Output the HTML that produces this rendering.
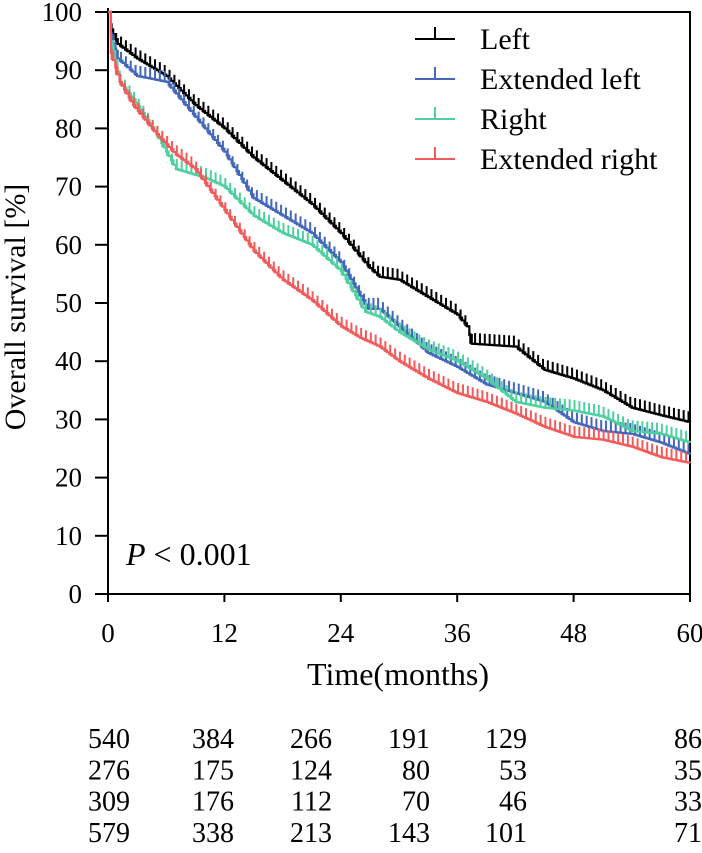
<!DOCTYPE html>
<html><head><meta charset="utf-8"><style>
body{margin:0;background:#fff}
svg text{font-family:"Liberation Serif",serif;fill:#000}
</style></head><body>
<svg id="chart" width="702" height="848" xmlns="http://www.w3.org/2000/svg">
<g id="plot"></g>
</svg>
<script>
const seriesNames=["Left","Extended left","Right","Extended right"];
const seriesColors=["#000000","#4466bb","#4ecf9f","#f25b5b"];
const leftT=[0,0.3,1,3,6,9,12,15,18,21,24,27,28,30,33,36,37,37.5,42,45,48,51,54,57,60];
const leftV=[100,97,94.5,92,89,84,80,75,71,67,62,56,54.5,54,51,48,46,43,42.5,38.5,37,35,32,30.7,29.5];
const extLeftT=[0,0.3,1,3,6,8,12,15,18,21,24,26.8,28,30,33,36,39,42,45,48,51,54,57,60];
const extLeftV=[100,96,92,89,88,84,76,68,65,62,57,49,49,46,41.4,39,36,34.5,33,29.5,28,27.5,26,24];
const rightT=[0,0.3,1.2,2.6,5,7,10,12,15,18,21,24,26.5,28,30,33,36,39,42,45,48,51,54,57,60];
const rightV=[100,95,88,85,79,73,71.5,70,65,62,60,55.5,48.5,47.6,45,42,40,37,33,32,31.5,30.5,28,27.5,26];
const extRightT=[0,0.3,1.2,2.6,5,7,9,12,15,18,21,24,26,28,30,33,36,39,42,45,48,51,54,57,60];
const extRightV=[100,93,88,84,79,75.5,73,66,59,54,50.5,46,44,42.5,40,37,34.5,33,31,28.7,27,26.5,25.3,23.5,22.5];
const xTicks=[0,12,24,36,48,60];
const yTicks=[0,10,20,30,40,50,60,70,80,90,100];
const riskRows=[[540,384,266,191,129,86],[276,175,124,80,53,35],[309,176,112,70,46,33],[579,338,213,143,101,71]];

const X0=108,X1=690,Y0=594,Y1=12;
const xs=t=>X0+(t/60)*(X1-X0);
const ys=v=>Y0-(v/100)*(Y0-Y1);
const NS="http://www.w3.org/2000/svg";
const g=document.getElementById('plot');
function mk(tag,attrs,parent){const e=document.createElementNS(NS,tag);for(const k in attrs)e.setAttribute(k,attrs[k]);(parent||g).appendChild(e);return e;}

let a=mk('path',{d:`M${X0},${Y1-4}V${Y0}H${X1}V${Y1}H${X0}`,fill:'none',stroke:'#000','stroke-width':2});


yTicks.forEach(v=>{
 let t=mk('line',{x1:X0-13,x2:X0,y1:ys(v),y2:ys(v),stroke:'#000','stroke-width':2});
 
 
 let l=mk('text',{x:82,y:ys(v)+9,'text-anchor':'end','font-size':27});
 l.textContent=v;
 
 
});
xTicks.forEach(v=>{
 let t=mk('line',{x1:xs(v),x2:xs(v),y1:Y0,y2:Y0+8,stroke:'#000','stroke-width':2});
 
 
 let l=mk('text',{x:xs(v),y:Y0+48,'text-anchor':'middle','font-size':27});
 l.textContent=v;
 
 
});
let yt=mk('text',{x:0,y:0,transform:'translate(25,307) rotate(-90)','text-anchor':'middle','font-size':30});
yt.textContent='Overall survival [%]';


let xt=mk('text',{x:398,y:685,'text-anchor':'middle','font-size':32});
xt.textContent='Time(months)';


let pv=mk('text',{x:126,y:565,'font-size':32});
pv.innerHTML='<tspan font-style="italic">P</tspan> &lt; 0.001';



const allT=[leftT,extLeftT,rightT,extRightT], allV=[leftV,extLeftV,rightV,extRightV];
allT.forEach((T,si)=>{
 const V=allV[si];
 let d=`M${xs(0)},${ys(V[0])}`, cens='';
 let cnt=0;
 for(let i=0;i<T.length-1;i++){
  const n=Math.max(1,Math.round((T[i+1]-T[i])*4));
  for(let k=1;k<=n;k++){
   const t=T[i]+(T[i+1]-T[i])*k/n, v=V[i]+(V[i+1]-V[i])*k/n;
   d+=`H${xs(t)}V${ys(v)}`;
   cnt++;
   if(t>0.5 && cnt%2==0) cens+=`M${xs(t)-1.5},${ys(v)}v-11`;
  }
 }
 let p=mk('path',{d,fill:'none',stroke:seriesColors[si],'stroke-width':2.2});
 
 
 let c=mk('path',{d:cens,fill:'none',stroke:seriesColors[si],'stroke-width':2});
 
 
});
seriesNames.forEach((n,i)=>{
 const y=39+i*40;
 let l=mk('path',{d:`M415,${y}H455M435,${y}v-12`,stroke:seriesColors[i],'stroke-width':2,fill:'none'});
 
 
 let t=mk('text',{x:480,y:y+10,'font-size':30});
 t.textContent=n;
 
 
});
const riskX=[130,234,332,430,527,702];
riskRows.forEach((row,ri)=>{
 row.forEach((v,ci)=>{
  let t=mk('text',{x:riskX[ci],y:748+ri*31.3,'text-anchor':'end','font-size':28});
  t.textContent=v;
  
  
 });
});
</script>
</body></html>
